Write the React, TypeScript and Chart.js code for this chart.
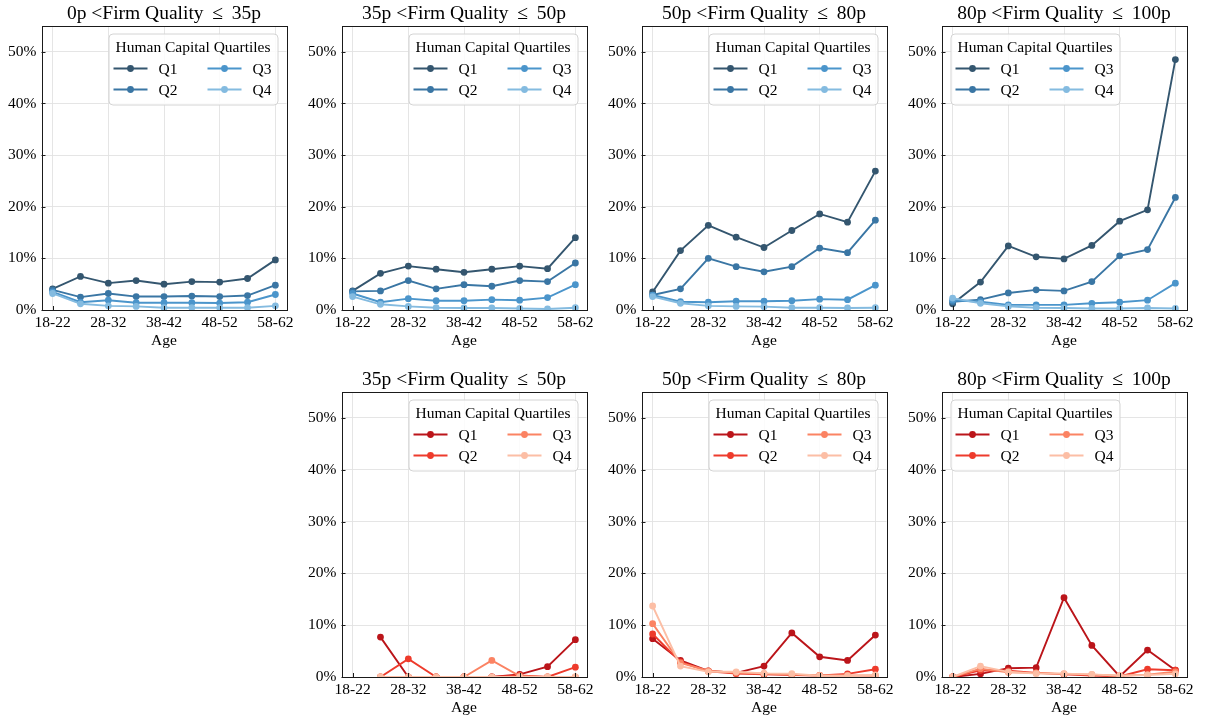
import React, { useEffect, useRef } from "react";
import { Chart, registerables } from "chart.js";

Chart.register(...registerables);

// ---------- data ----------
const ageGroups = ["18-22", "23-27", "28-32", "33-37", "38-42", "43-47", "48-52", "53-57", "58-62"];
const quartiles = ["Q1", "Q2", "Q3", "Q4"];
const yTickValues = [0, 10, 20, 30, 40, 50];
const xTickIndices = [0, 2, 4, 6, 8];

// Top row (blue): Firm quality bins
const blue0to35Q1 = [4.1, 6.5, 5.2, 5.7, 5.0, 5.5, 5.4, 6.1, 9.7];
const blue0to35Q2 = [3.9, 2.5, 3.2, 2.6, 2.6, 2.7, 2.6, 2.8, 4.8];
const blue0to35Q3 = [3.5, 1.5, 1.9, 1.4, 1.4, 1.4, 1.35, 1.5, 3.0];
const blue0to35Q4 = [3.2, 1.2, 0.8, 0.7, 0.45, 0.45, 0.45, 0.45, 0.8];

const blue35to50Q1 = [3.7, 7.1, 8.5, 7.9, 7.3, 7.9, 8.5, 8.0, 14.0];
const blue35to50Q2 = [3.6, 3.7, 5.7, 4.1, 4.9, 4.6, 5.7, 5.5, 9.1];
const blue35to50Q3 = [3.2, 1.5, 2.2, 1.8, 1.8, 2.0, 1.9, 2.4, 4.9];
const blue35to50Q4 = [2.6, 1.1, 0.7, 0.45, 0.4, 0.4, 0.3, 0.2, 0.45];

const blue50to80Q1 = [3.5, 11.5, 16.4, 14.1, 12.1, 15.4, 18.6, 17.0, 26.9];
const blue50to80Q2 = [2.9, 4.1, 10.0, 8.4, 7.4, 8.4, 12.0, 11.1, 17.4];
const blue50to80Q3 = [2.9, 1.6, 1.5, 1.7, 1.7, 1.8, 2.1, 2.0, 4.8];
const blue50to80Q4 = [2.6, 1.3, 0.8, 0.7, 0.65, 0.45, 0.45, 0.4, 0.45];

const blue80to100Q1 = [1.2, 5.4, 12.4, 10.3, 9.9, 12.5, 17.2, 19.4, 48.5];
const blue80to100Q2 = [1.6, 2.0, 3.3, 3.9, 3.7, 5.5, 10.5, 11.7, 21.8];
const blue80to100Q3 = [1.9, 1.6, 1.0, 1.0, 1.0, 1.3, 1.5, 1.9, 5.2];
const blue80to100Q4 = [2.3, 1.3, 0.7, 0.45, 0.4, 0.3, 0.3, 0.4, 0.3];

// Bottom row (red)
const red35to50Q1 = [null, 7.7, 0, 0, 0, 0, 0.5, 2.0, 7.2];
const red35to50Q2 = [null, 0, 3.5, 0, 0, 0, 0.3, 0, 1.9];
const red35to50Q3 = [null, 0, 0, 0, 0, 3.2, 0.2, 0, 0];
const red35to50Q4 = [null, 0, 0, 0, 0, 0, 0, 0, 0];

const red50to80Q1 = [7.4, 3.2, 1.2, 0.8, 2.1, 8.5, 3.9, 3.2, 8.1];
const red50to80Q2 = [8.3, 2.9, 1.1, 0.65, 0.5, 0.4, 0.3, 0.6, 1.5];
const red50to80Q3 = [10.3, 2.7, 1.2, 0.8, 0.65, 0.45, 0.3, 0.3, 0.25];
const red50to80Q4 = [13.7, 2.1, 1.0, 1.0, 0.7, 0.65, 0.25, 0.25, 0.4];

const red80to100Q1 = [0, 0.6, 1.7, 1.8, 15.3, 6.1, 0.1, 5.2, 1.3];
const red80to100Q2 = [0, 1.3, 1.2, 0.8, 0.5, 0.3, 0.1, 1.5, 1.3];
const red80to100Q3 = [0, 1.6, 0.9, 0.8, 0.6, 0.45, 0.25, 0.45, 1.0];
const red80to100Q4 = [0, 2.1, 1.0, 0.65, 0.65, 0.5, 0.25, 0.4, 0.6];

const bluePalette = ["#34566f", "#3a76a4", "#4b95cb", "#84bbe0"];
const redPalette = ["#bb151a", "#ee3b2c", "#fb8363", "#fcbea5"];

const FONT_FAMILY = "'Liberation Serif', 'Times New Roman', 'DejaVu Serif', serif";

type PanelCfg = {
  title: string;
  col: number;
  row: number;
  series: (number | null)[][];
  colors: string[];
  legendSide: "left" | "right";
};

const panels: PanelCfg[] = [
  { title: "0p <Firm Quality \u2009\u2264\u2009 35p", col: 0, row: 0, series: [blue0to35Q1, blue0to35Q2, blue0to35Q3, blue0to35Q4], colors: bluePalette, legendSide: "right" },
  { title: "35p <Firm Quality \u2009\u2264\u2009 50p", col: 1, row: 0, series: [blue35to50Q1, blue35to50Q2, blue35to50Q3, blue35to50Q4], colors: bluePalette, legendSide: "right" },
  { title: "50p <Firm Quality \u2009\u2264\u2009 80p", col: 2, row: 0, series: [blue50to80Q1, blue50to80Q2, blue50to80Q3, blue50to80Q4], colors: bluePalette, legendSide: "right" },
  { title: "80p <Firm Quality \u2009\u2264\u2009 100p", col: 3, row: 0, series: [blue80to100Q1, blue80to100Q2, blue80to100Q3, blue80to100Q4], colors: bluePalette, legendSide: "left" },
  { title: "35p <Firm Quality \u2009\u2264\u2009 50p", col: 1, row: 1, series: [red35to50Q1, red35to50Q2, red35to50Q3, red35to50Q4], colors: redPalette, legendSide: "right" },
  { title: "50p <Firm Quality \u2009\u2264\u2009 80p", col: 2, row: 1, series: [red50to80Q1, red50to80Q2, red50to80Q3, red50to80Q4], colors: redPalette, legendSide: "right" },
  { title: "80p <Firm Quality \u2009\u2264\u2009 100p", col: 3, row: 1, series: [red80to100Q1, red80to100Q2, red80to100Q3, red80to100Q4], colors: redPalette, legendSide: "left" },
];

// ---------- layout geometry ----------
const CELL_W = 300;
const ROWS = [
  { canvasTop: 0, canvasH: 358, plotTop: 26, plotBottom: 310 },
  { canvasTop: 358, canvasH: 359, plotTop: 392, plotBottom: 677 },
];
const Y_AXIS_W = 41.5;
const RIGHT_PAD = 13.5;

function Panel({ cfg }: { cfg: PanelCfg }) {
  const ref = useRef<HTMLCanvasElement>(null);
  useEffect(() => {
    const geo = ROWS[cfg.row];
    const xAxisH = geo.canvasTop + geo.canvasH - geo.plotBottom;
    const tickFont = { family: FONT_FAMILY, size: 15.5 };
    const ageTitleCenter = 30.5; // px below plot bottom
    const titleBottomPad = xAxisH - ageTitleCenter - 9.3;

    const decorPlugin = {
      id: "decor",
      afterDraw(chart: any) {
        const { ctx, chartArea: a } = chart;
        ctx.save();
        // spines
        ctx.strokeStyle = "#1a1a1a";
        ctx.lineWidth = 1;
        ctx.strokeRect(Math.round(a.left) + 0.5, Math.round(a.top) + 0.5, Math.round(a.right - a.left), Math.round(a.bottom - a.top));
        // inward ticks
        const xs = chart.scales.x;
        const ys = chart.scales.y;
        ctx.beginPath();
        xTickIndices.forEach((i) => {
          const px = Math.round(xs.getPixelForValue(i)) + 0.5;
          ctx.moveTo(px, a.bottom);
          ctx.lineTo(px, a.bottom - 4);
        });
        yTickValues.forEach((v) => {
          const py = Math.round(ys.getPixelForValue(v)) + 0.5;
          ctx.moveTo(a.left, py);
          ctx.lineTo(a.left + 4, py);
        });
        ctx.stroke();
        // title
        ctx.fillStyle = "#000";
        ctx.font = `19.5px ${FONT_FAMILY}`;
        ctx.textAlign = "center";
        ctx.textBaseline = "middle";
        ctx.fillText(cfg.title, (a.left + a.right) / 2, a.top - 12.5);
        // legend
        const bw = 169;
        const bh = 71;
        const bx = cfg.legendSide === "right" ? a.right - 9 - bw : a.left + 9;
        const by = a.top + 7.5;
        ctx.beginPath();
        if ((ctx as any).roundRect) (ctx as any).roundRect(bx + 0.5, by + 0.5, bw, bh, 4);
        else ctx.rect(bx + 0.5, by + 0.5, bw, bh);
        ctx.fillStyle = "rgba(255,255,255,0.85)";
        ctx.fill();
        ctx.strokeStyle = "#d4d4d4";
        ctx.lineWidth = 1;
        ctx.stroke();
        ctx.fillStyle = "#000";
        ctx.font = `15.5px ${FONT_FAMILY}`;
        ctx.textAlign = "center";
        ctx.fillText("Human Capital Quartiles", bx + bw / 2, by + 14);
        ctx.textAlign = "left";
        quartiles.forEach((q, k) => {
          const colIdx = Math.floor(k / 2);
          const rowIdx = k % 2;
          const hx = bx + (colIdx === 0 ? 5 : 99);
          const hy = by + 35 + rowIdx * 21;
          ctx.strokeStyle = cfg.colors[k];
          ctx.lineWidth = 2;
          ctx.beginPath();
          ctx.moveTo(hx, hy);
          ctx.lineTo(hx + 34, hy);
          ctx.stroke();
          ctx.fillStyle = cfg.colors[k];
          ctx.beginPath();
          ctx.arc(hx + 17, hy, 3.4, 0, Math.PI * 2);
          ctx.fill();
          ctx.fillStyle = "#000";
          ctx.fillText(q, hx + 45, hy + 1);
        });
        ctx.restore();
      },
    };

    const chart = new Chart(ref.current as HTMLCanvasElement, {
      type: "line",
      data: {
        datasets: cfg.series.map((vals, k) => ({
          label: quartiles[k],
          data: vals.map((v, i) => ({ x: i, y: v })),
          borderColor: cfg.colors[k],
          backgroundColor: cfg.colors[k],
          pointBackgroundColor: cfg.colors[k],
          pointBorderWidth: 0,
          pointRadius: 3.4,
          borderWidth: 1.9,
          tension: 0,
          fill: false,
          spanGaps: false,
          clip: 0,
          order: 4 - k,
        })) as any,
      },
      options: {
        responsive: false,
        animation: false,
        events: [],
        layout: {
          autoPadding: false,
          padding: { top: geo.plotTop - geo.canvasTop, right: RIGHT_PAD, left: 0, bottom: 0 },
        } as any,
        plugins: {
          legend: { display: false },
          title: { display: false },
          tooltip: { enabled: false },
        },
        scales: {
          x: {
            type: "linear",
            min: -0.4,
            max: 8.4,
            afterBuildTicks: (s: any) => {
              s.ticks = xTickIndices.map((v) => ({ value: v }));
            },
            afterFit: (s: any) => {
              s.height = xAxisH;
            },
            grid: { color: "#e2e2e2", lineWidth: 0.9, drawTicks: false },
            border: { display: false },
            ticks: {
              callback: (v: any) => ageGroups[Number(v)] ?? "",
              padding: 4,
              font: tickFont,
              color: "#000",
              maxRotation: 0,
              autoSkip: false,
            },
            title: {
              display: true,
              text: "Age",
              font: tickFont,
              color: "#000",
              padding: { top: 0, bottom: titleBottomPad },
            },
          },
          y: {
            type: "linear",
            min: 0,
            max: 55,
            afterBuildTicks: (s: any) => {
              s.ticks = yTickValues.map((v) => ({ value: v }));
            },
            afterFit: (s: any) => {
              s.width = Y_AXIS_W;
            },
            grid: { color: "#e2e2e2", lineWidth: 0.9, drawTicks: false },
            border: { display: false },
            ticks: {
              callback: (v: any) => `${v}%`,
              padding: 5,
              font: tickFont,
              color: "#000",
            },
          },
        },
      } as any,
      plugins: [decorPlugin],
    });
    return () => chart.destroy();
  }, [cfg]);

  const geo = ROWS[cfg.row];
  return (
    <canvas
      ref={ref}
      width={CELL_W}
      height={geo.canvasH}
      style={{ position: "absolute", left: cfg.col * CELL_W, top: geo.canvasTop, width: CELL_W, height: geo.canvasH }}
    />
  );
}

export default function App() {
  return (
    <div style={{ position: "fixed", left: 0, top: 0, width: 1207, height: 717, background: "#fff", overflow: "hidden" }}>
      {panels.map((p, i) => (
        <Panel key={i} cfg={p} />
      ))}
    </div>
  );
}
